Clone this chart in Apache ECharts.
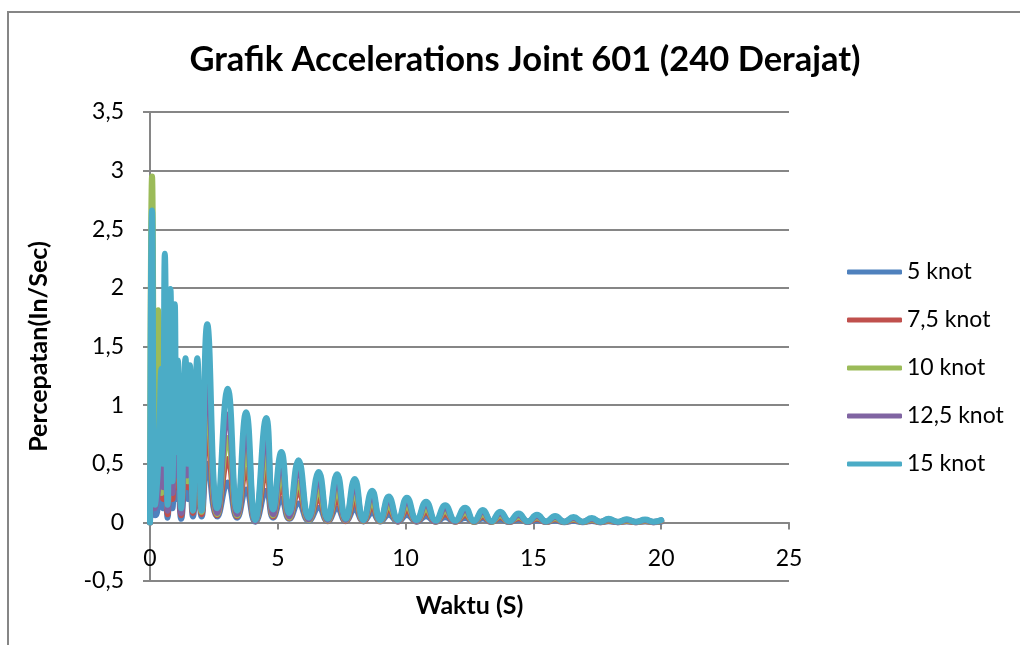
<!DOCTYPE html>
<html>
<head>
<meta charset="utf-8">
<script src="https://cdn.jsdelivr.net/npm/echarts@6/dist/echarts.min.js"></script>
<style>
  html, body { margin: 0; padding: 0; background: #fff; }
  #chart { width: 1020px; height: 645px; }
</style>
</head>
<body>
<div id="chart"></div>
<script>
// Time samples (s): peaks and troughs of the joint response
const time = [
  0.00, 0.08, 0.20, 0.32, 0.45, 0.51, 0.58, 0.69, 0.80, 0.88,
  0.97, 1.03, 1.09, 1.22, 1.39, 1.47, 1.56, 1.68, 1.85, 2.02,
  2.24, 2.63, 3.04, 3.41, 3.76, 4.12, 4.55, 4.82, 5.14, 5.45,
  5.81, 6.21, 6.60, 6.95, 7.32, 7.66, 8.01, 8.35, 8.69, 9.01,
  9.34, 9.70, 10.05, 10.43, 10.80, 11.18, 11.55, 11.94, 12.33, 12.68,
  13.02, 13.36, 13.70, 14.06, 14.42, 14.78, 15.14, 15.50, 15.85, 16.21,
  16.57, 16.93, 17.29, 17.62, 17.94, 18.30, 18.65, 19.01, 19.37, 19.70,
  20.00
];

// Acceleration (In/Sec) per current speed
const knot5 = [
  0.00, 0.10, 0.06, 0.15, 0.40, 0.12, 0.70, 0.04, 0.60, 0.12,
  0.55, 0.20, 0.45, 0.03, 0.45, 0.20, 0.42, 0.05, 0.50, 0.05,
  0.50, 0.05, 0.34, 0.04, 0.28, 0.005, 0.27, 0.04, 0.20, 0.03,
  0.16, 0.015, 0.125, 0.01, 0.12, 0.01, 0.11, 0.008, 0.08, 0.008,
  0.066, 0.006, 0.063, 0.006, 0.052, 0.005, 0.044, 0.005, 0.037, 0.004,
  0.032, 0.004, 0.027, 0.003, 0.022, 0.003, 0.019, 0.003, 0.016, 0.002,
  0.013, 0.002, 0.011, 0.002, 0.009, 0.002, 0.008, 0.002, 0.007, 0.002,
  0.006
];
const knot7_5 = [
  0.00, 0.25, 0.22, 0.28, 0.60, 0.20, 1.10, 0.07, 1.00, 0.20,
  0.95, 0.30, 0.75, 0.06, 0.75, 0.30, 0.70, 0.08, 0.80, 0.07,
  0.80, 0.06, 0.54, 0.05, 0.45, 0.01, 0.43, 0.05, 0.31, 0.035,
  0.26, 0.02, 0.20, 0.012, 0.19, 0.012, 0.175, 0.01, 0.13, 0.01,
  0.105, 0.008, 0.10, 0.008, 0.084, 0.006, 0.07, 0.006, 0.06, 0.005,
  0.05, 0.005, 0.043, 0.004, 0.036, 0.004, 0.031, 0.003, 0.026, 0.003,
  0.022, 0.003, 0.018, 0.002, 0.014, 0.002, 0.012, 0.002, 0.011, 0.002,
  0.01
];
const knot10 = [
  0.00, 2.95, 0.30, 1.81, 0.25, 0.80, 1.20, 0.12, 1.10, 0.30,
  1.00, 0.50, 0.80, 0.15, 0.80, 0.35, 0.45, 0.30, 1.00, 0.09,
  1.05, 0.07, 0.72, 0.06, 0.60, 0.01, 0.57, 0.06, 0.41, 0.04,
  0.34, 0.02, 0.27, 0.015, 0.26, 0.015, 0.24, 0.012, 0.17, 0.012,
  0.14, 0.01, 0.135, 0.01, 0.11, 0.008, 0.095, 0.008, 0.08, 0.006,
  0.068, 0.006, 0.058, 0.005, 0.048, 0.005, 0.042, 0.004, 0.035, 0.004,
  0.029, 0.003, 0.024, 0.003, 0.019, 0.003, 0.017, 0.003, 0.015, 0.003,
  0.013
];
const knot12_5 = [
  0.00, 0.68, 0.12, 0.30, 0.90, 0.30, 1.60, 0.10, 1.50, 0.25,
  1.40, 0.40, 1.10, 0.08, 1.10, 0.40, 1.00, 0.45, 1.10, 0.12,
  1.30, 0.08, 0.92, 0.07, 0.78, 0.01, 0.74, 0.07, 0.52, 0.05,
  0.45, 0.025, 0.36, 0.02, 0.35, 0.02, 0.31, 0.015, 0.23, 0.015,
  0.19, 0.012, 0.18, 0.012, 0.15, 0.01, 0.12, 0.01, 0.105, 0.008,
  0.09, 0.008, 0.075, 0.006, 0.063, 0.006, 0.055, 0.005, 0.046, 0.005,
  0.038, 0.004, 0.031, 0.004, 0.025, 0.004, 0.022, 0.004, 0.02, 0.004,
  0.017
];
const knot15 = [
  0.00, 2.66, 0.15, 0.50, 1.31, 0.50, 2.29, 0.15, 1.99, 0.35,
  1.86, 0.60, 1.38, 0.12, 1.40, 0.50, 1.34, 0.10, 1.40, 0.10,
  1.69, 0.12, 1.14, 0.10, 0.94, 0.02, 0.89, 0.11, 0.60, 0.08,
  0.53, 0.04, 0.43, 0.03, 0.41, 0.03, 0.37, 0.02, 0.27, 0.02,
  0.22, 0.02, 0.21, 0.02, 0.175, 0.015, 0.145, 0.015, 0.125, 0.012,
  0.105, 0.01, 0.09, 0.01, 0.075, 0.008, 0.065, 0.008, 0.055, 0.006,
  0.045, 0.006, 0.037, 0.005, 0.03, 0.005, 0.026, 0.005, 0.024, 0.005,
  0.02
];

const seriesNames = ['5 knot', '7,5 knot', '10 knot', '12,5 knot', '15 knot'];
const seriesValues = [knot5, knot7_5, knot10, knot12_5, knot15];
const colors = ['#4F81BD', '#C0504D', '#9BBB59', '#8064A2', '#4BACC6'];

const FONT = 'Lato, "Open Sans", sans-serif';
const GRID_COLOR = '#868686';
const commaDecimal = v => String(v).replace('.', ',');

const chart = echarts.init(document.getElementById('chart'), null, { renderer: 'canvas' });

chart.setOption({
  animation: false,
  backgroundColor: '#ffffff',
  color: colors,
  graphic: [{
    type: 'rect',
    shape: { x: 8, y: 12, width: 1100, height: 1000 },
    style: { fill: 'none', stroke: GRID_COLOR, lineWidth: 2 },
    silent: true,
    z: -1
  }],
  title: {
    text: 'Grafik Accelerations Joint 601 (240 Derajat)',
    left: 520,
    textAlign: 'center',
    top: 37,
    textStyle: { fontFamily: FONT, fontWeight: 'bold', fontSize: 34.5, color: '#000' }
  },
  legend: {
    orient: 'vertical',
    left: 842,
    top: 253,
    itemWidth: 55,
    itemHeight: 5,
    itemGap: 20,
    icon: 'roundRect',
    data: seriesNames,
    textStyle: { fontFamily: FONT, fontSize: 23, color: '#000', lineHeight: 28 }
  },
  grid: { left: 150, right: 231, top: 112, bottom: 64, containLabel: false, outerBoundsMode: 'none' },
  xAxis: {
    type: 'value',
    min: 0, max: 25, interval: 5,
    name: 'Waktu (S)',
    nameLocation: 'middle',
    nameGap: 12,
    nameTextStyle: { fontFamily: FONT, fontWeight: 'bold', fontSize: 25, color: '#000' },
    axisLine: { show: true, onZero: true, lineStyle: { color: GRID_COLOR, width: 2 } },
    axisTick: { show: true, length: 7, lineStyle: { color: GRID_COLOR, width: 2 } },
    axisLabel: { margin: -34, fontFamily: FONT, fontSize: 23, color: '#000' },
    splitLine: { show: false }
  },
  yAxis: {
    type: 'value',
    min: -0.5, max: 3.5, interval: 0.5,
    name: 'Percepatan(In/Sec)',
    nameLocation: 'middle',
    nameGap: 99,
    nameTextStyle: { fontFamily: FONT, fontWeight: 'bold', fontSize: 25, color: '#000' },
    axisLine: { show: true, lineStyle: { color: GRID_COLOR, width: 2 } },
    axisTick: { show: true, length: 7, lineStyle: { color: GRID_COLOR, width: 2 } },
    axisLabel: { margin: 26, fontFamily: FONT, fontSize: 23, color: '#000', formatter: commaDecimal },
    splitLine: { show: true, lineStyle: { color: GRID_COLOR, width: 2 } }
  },
  series: seriesNames.map((name, i) => ({
    name,
    type: 'line',
    data: time.map((t, k) => [t, seriesValues[i][k]]),
    smooth: 0.5,
    showSymbol: false,
    symbol: 'none',
    lineStyle: { width: 6, color: colors[i], cap: 'round', join: 'round' },
    itemStyle: { color: colors[i] },
    emphasis: { disabled: true }
  }))
});
</script>
</body>
</html>
